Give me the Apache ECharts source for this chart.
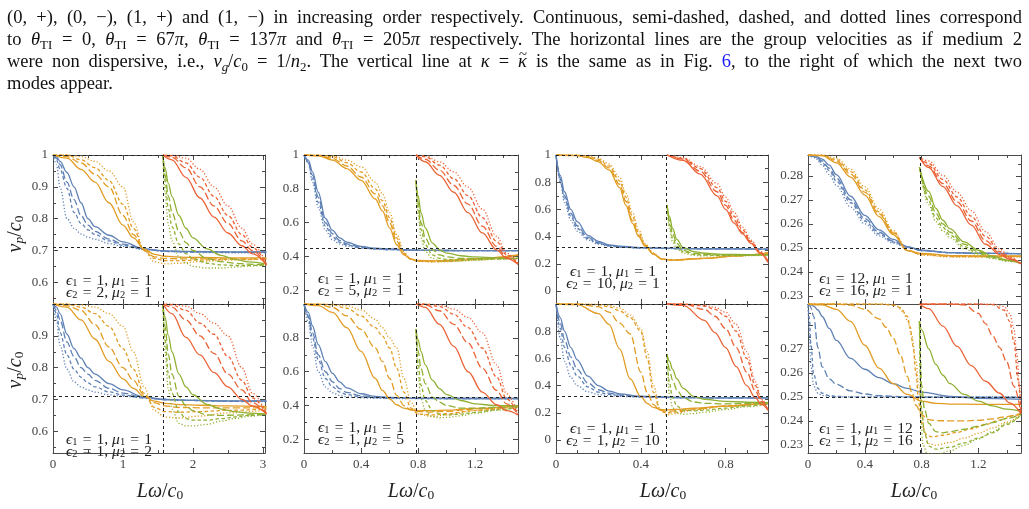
<!DOCTYPE html>
<html><head><meta charset="utf-8">
<script src="https://cdn.jsdelivr.net/npm/echarts@6/dist/echarts.min.js"></script>
<style>
html,body{margin:0;padding:0;background:#fff;width:1029px;height:509px;overflow:hidden;}
#chart{position:absolute;left:0;top:0;width:1029px;height:509px;}
#para{position:absolute;left:7px;top:6px;width:1015px;font-family:'Liberation Serif','Times New Roman',serif;font-size:18.5px;line-height:22px;color:#111;z-index:2;}
#para .ln{text-align:justify;text-align-last:justify;height:22px;white-space:nowrap;}
#para .last{text-align:left;text-align-last:left;}
#para sub{font-size:0.7em;line-height:0;vertical-align:-0.28em;}
#para i{font-style:italic;}
#para .tk{position:relative;display:inline-block;}
#para .tl{position:absolute;left:1px;top:-7px;font-style:normal;font-size:0.8em;}
</style></head>
<body>
<div id="chart"></div>
<div id="para">
<div class="ln">(0, +), (0, −), (1, +) and (1, −) in increasing order respectively. Continuous, semi-dashed, dashed, and dotted lines correspond</div>
<div class="ln">to <i>θ</i><sub>TI</sub> = 0, <i>θ</i><sub>TI</sub> = 67<i>π</i>, <i>θ</i><sub>TI</sub> = 137<i>π</i> and <i>θ</i><sub>TI</sub> = 205<i>π</i> respectively. The horizontal lines are the group velocities as if medium 2</div>
<div class="ln">were non dispersive, i.e., <i>v<sub>g</sub></i>/<i>c</i><sub>0</sub> = 1/<i>n</i><sub>2</sub>. The vertical line at <i>κ</i> = <span class="tk"><i>κ</i><span class="tl">~</span></span> is the same as in Fig. <span style="color:#1a1aff">6</span>, to the right of which the next two</div>
<div class="ln last">modes appear.</div>
</div>
<script>
// ---------- tick values ----------
const X_MAX = [3.03, 1.5, 1.0, 1.5];
const Y_RANGE = [[0.532, 1], [0.12, 1], [-0.095, 1], [0.2266, 0.2887]];
const X_MAJOR = [[0, 1, 2, 3], [0, 0.4, 0.8, 1.2], [0, 0.4, 0.8], [0, 0.4, 0.8, 1.2]];
const X_MINOR = [[0.5, 1.5, 2.5], [0.2, 0.6, 1.0, 1.4], [0.1, 0.2, 0.3, 0.5, 0.6, 0.7, 0.9], [0.2, 0.6, 1.0, 1.4]];
const Y_MAJOR = [[0.6, 0.7, 0.8, 0.9, 1], [0.2, 0.4, 0.6, 0.8, 1], [0, 0.2, 0.4, 0.6, 0.8, 1], [0.23, 0.24, 0.25, 0.26, 0.27, 0.28]];
const Y_MINOR = [[0.55, 0.65, 0.75, 0.85, 0.95], [0.3, 0.5, 0.7, 0.9], [0.1, 0.3, 0.5, 0.7, 0.9], [0.235, 0.245, 0.255, 0.265, 0.275, 0.285]];
const Y_LABELS_TOP = [[0.6, 0.7, 0.8, 0.9, 1], [0.2, 0.4, 0.6, 0.8, 1], [0, 0.2, 0.4, 0.6, 0.8, 1], [0.23, 0.24, 0.25, 0.26, 0.27, 0.28]];
const Y_LABELS_BOTTOM = [[0.6, 0.7, 0.8, 0.9], [0.2, 0.4, 0.6, 0.8], [0, 0.2, 0.4, 0.6, 0.8], [0.23, 0.24, 0.25, 0.26, 0.27]];
// reference lines: 1/n2 (horizontal), kappa-tilde (vertical), 1/n1 (top)
const H_REF = [0.7071, 0.7071, 0.4472, 0.4472, 0.3162, 0.3162, 0.25, 0.25];
const V_REF = [1.5708, 1.5708, 0.7854, 0.7854, 0.5236, 0.5236, 0.7854, 0.7854];
const T_REF = [1, 1, 1, 1, 1, 1, 0.2887, 0.2887];
// ---------- panel texts ----------
const ANNOT = [
  ['1', '1', '2', '1'], ['1', '1', '1', '2'],
  ['1', '1', '5', '1'], ['1', '1', '1', '5'],
  ['1', '1', '10', '1'], ['1', '1', '1', '10'],
  ['12', '1', '16', '1'], ['1', '12', '1', '16']
];

// ---------- curve data (order: solid, semi-dashed, dashed, dotted) ----------
// Panel A: eps2=2
const A_blue_x = [0,.05,.1,.2,.3,.4,.5,.6,.8,1.0,1.3,1.6,2,2.5,3.05];
const A_blue_y = [
 [1,.995,.98,.945,.9,.85,.80,.775,.748,.727,.705,.699,.697,.696,.696],
 [1,.99,.97,.915,.86,.81,.78,.76,.736,.72,.704,.698,.696,.695,.695],
 [1,.985,.955,.895,.82,.785,.765,.75,.73,.716,.704,.697,.695,.694,.694],
 [1,.97,.9,.8,.77,.752,.742,.735,.722,.713,.704,.697,.694,.693,.693]];
const A_orange_x = [0,.2,.4,.6,.8,1.0,1.15,1.3,1.45,1.6,1.8,2.1,2.5,3.05];
const A_orange_y = [
 [1,.99,.955,.915,.85,.78,.74,.705,.688,.682,.679,.678,.677,.677],
 [1,.995,.975,.94,.9,.81,.75,.702,.68,.675,.674,.674,.674,.674],
 [1,1,.985,.96,.92,.845,.77,.70,.675,.668,.668,.67,.672,.673],
 [1,1,.995,.98,.95,.9,.79,.70,.665,.658,.66,.665,.67,.672]];
const A_green_x = [1.571,1.6,1.65,1.7,1.8,1.9,2.0,2.2,2.4,2.6,2.8,3.05];
const A_green_y = [
 [1,.96,.91,.87,.81,.77,.74,.705,.685,.672,.664,.657],
 [1,.94,.87,.82,.76,.725,.70,.675,.665,.66,.657,.655],
 [1,.92,.83,.775,.72,.69,.675,.66,.655,.653,.653,.654],
 [1,.88,.78,.73,.68,.66,.65,.645,.645,.648,.651,.655]];
const A_red_x = [1.571,1.7,1.9,2.1,2.3,2.5,2.7,2.85,3.05];
const A_red_y = [
 [1,.985,.93,.865,.805,.755,.715,.69,.655],
 [1,.993,.96,.9,.84,.785,.73,.70,.655],
 [1,.997,.975,.93,.87,.81,.75,.71,.658],
 [1,.999,.99,.955,.9,.84,.77,.72,.66]];
// Panel B: mu2=2
const B_blue_x = [0,.05,.1,.2,.3,.4,.5,.6,.8,1.0,1.3,1.6,2,2.5,3.05];
const B_blue_y = [
 [1,.99,.97,.905,.86,.83,.80,.78,.75,.73,.708,.70,.697,.696,.696],
 [1,.98,.95,.88,.835,.80,.78,.76,.735,.72,.706,.70,.697,.695,.695],
 [1,.97,.91,.84,.795,.77,.752,.74,.724,.714,.705,.70,.697,.694,.694],
 [1,.95,.87,.795,.755,.74,.73,.723,.715,.71,.705,.70,.697,.694,.693]];
const B_orange_x = [0,.2,.4,.6,.8,1.0,1.15,1.3,1.45,1.6,1.8,2.1,2.5,3.05];
const B_orange_y = [
 [1,.99,.95,.89,.82,.765,.735,.71,.695,.688,.684,.682,.68,.678],
 [1,.995,.98,.935,.865,.80,.76,.715,.69,.68,.675,.674,.674,.674],
 [1,1,.99,.97,.93,.86,.795,.72,.675,.662,.66,.662,.666,.67],
 [1,1,.997,.99,.97,.93,.85,.74,.665,.645,.642,.648,.658,.667]];
const B_green_x = [1.571,1.6,1.65,1.7,1.8,1.9,2.0,2.2,2.4,2.6,2.8,3.05];
const B_green_y = [
 [1,.96,.9,.85,.78,.74,.715,.685,.67,.662,.657,.654],
 [1,.93,.84,.78,.71,.68,.665,.652,.65,.651,.652,.654],
 [1,.89,.78,.72,.66,.64,.635,.635,.64,.645,.65,.654],
 [1,.85,.73,.67,.625,.617,.617,.622,.632,.64,.647,.654]];
const B_red_x = [1.571,1.7,1.9,2.1,2.3,2.5,2.7,2.85,3.05];
const B_red_y = [
 [1,.97,.895,.84,.785,.74,.70,.68,.655],
 [1,.99,.95,.9,.845,.78,.73,.69,.655],
 [1,.997,.98,.94,.905,.835,.76,.705,.655],
 [1,1,.993,.97,.94,.9,.8,.72,.655]];
// Panel C: eps2=5
const C_blue_x = [0,.03,.06,.1,.15,.2,.25,.3,.4,.5,.6,.8,1.0,1.2,1.5];
const C_blue_y = [
 [1,.97,.9,.78,.625,.555,.51,.485,.46,.45,.445,.438,.436,.435,.435],
 [1,.96,.88,.75,.6,.535,.495,.475,.455,.447,.443,.437,.436,.435,.435],
 [1,.955,.86,.72,.58,.515,.485,.468,.452,.445,.441,.437,.436,.435,.435],
 [1,.95,.84,.69,.555,.5,.475,.462,.45,.444,.44,.437,.436,.435,.435]];
const C_orange_x = [0,.1,.2,.3,.4,.5,.55,.6,.65,.7,.75,.8,.9,1.0,1.2,1.5];
const C_orange_y = [
 [1,.995,.97,.92,.85,.74,.67,.57,.47,.41,.385,.377,.375,.378,.388,.41],
 [1,.997,.98,.935,.87,.77,.7,.6,.49,.415,.385,.375,.372,.375,.385,.41],
 [1,1,.99,.955,.9,.8,.73,.63,.51,.42,.384,.373,.37,.372,.383,.408],
 [1,1,.995,.97,.93,.84,.77,.66,.53,.43,.385,.372,.368,.37,.38,.407]];
const C_green_x = [.785,.8,.82,.85,.9,.95,1.0,1.1,1.2,1.35,1.5];
const C_green_y = [
 [.85,.76,.66,.57,.48,.44,.42,.405,.398,.393,.39],
 [.85,.72,.6,.51,.44,.41,.398,.39,.388,.388,.389],
 [.85,.69,.56,.47,.41,.39,.383,.381,.383,.386,.389],
 [.85,.65,.51,.43,.39,.375,.372,.374,.378,.384,.389]];
const C_red_x = [.785,.85,.95,1.05,1.15,1.25,1.35,1.42,1.5];
const C_red_y = [
 [1,.96,.88,.78,.66,.54,.44,.39,.355],
 [1,.975,.91,.82,.71,.58,.46,.395,.355],
 [1,.99,.94,.86,.76,.63,.49,.41,.358],
 [1,.995,.96,.9,.81,.68,.52,.42,.36]];
// Panel D: mu2=5
const D_blue_x = [0,.03,.06,.1,.15,.2,.25,.3,.4,.5,.6,.8,1.0,1.2,1.5];
const D_blue_y = [
 [1,.95,.87,.76,.66,.59,.54,.505,.47,.455,.448,.443,.442,.442,.442],
 [1,.93,.83,.7,.6,.54,.5,.478,.458,.45,.446,.443,.442,.442,.442],
 [1,.92,.8,.67,.56,.51,.48,.465,.452,.447,.444,.442,.442,.442,.442],
 [1,.89,.75,.6,.51,.475,.46,.452,.446,.443,.442,.442,.442,.442,.442]];
const D_orange_x = [0,.1,.2,.3,.4,.5,.55,.6,.65,.7,.75,.8,.9,1.0,1.2,1.5];
const D_orange_y = [
 [1,.99,.95,.86,.72,.56,.49,.44,.405,.385,.375,.37,.37,.373,.383,.4],
 [1,.998,.98,.93,.85,.74,.66,.56,.46,.4,.375,.365,.362,.366,.38,.4],
 [1,1,.995,.975,.93,.86,.81,.74,.62,.48,.385,.35,.345,.352,.372,.398],
 [1,1,.998,.99,.965,.91,.86,.8,.74,.56,.42,.35,.335,.345,.37,.398]];
const D_green_x = [.785,.8,.82,.85,.9,.95,1.0,1.1,1.2,1.35,1.5];
const D_green_y = [
 [.85,.79,.72,.64,.55,.5,.465,.43,.41,.4,.4],
 [.85,.72,.62,.53,.45,.42,.4,.385,.385,.39,.395],
 [.85,.65,.52,.43,.37,.35,.345,.35,.36,.375,.39],
 [.85,.58,.44,.37,.335,.328,.33,.34,.355,.372,.39]];
const D_red_x = [.785,.85,.95,1.05,1.15,1.25,1.35,1.42,1.5];
const D_red_y = [
 [1,.98,.88,.75,.6,.48,.405,.37,.345],
 [1,.995,.96,.88,.77,.62,.49,.41,.35],
 [1,1,.985,.94,.86,.74,.57,.44,.35],
 [1,1,.995,.97,.92,.83,.64,.47,.355]];
// Panel E: eps2=10
const E_blue_x = [0,.02,.04,.07,.1,.15,.2,.25,.3,.4,.5,.6,.8,1.0];
const E_blue_y = [
 [1,.85,.73,.6,.51,.41,.365,.34,.33,.32,.315,.312,.31,.308],
 [1,.83,.7,.57,.48,.395,.355,.335,.326,.318,.314,.312,.31,.308],
 [1,.82,.68,.55,.46,.385,.35,.332,.324,.317,.314,.312,.31,.308],
 [1,.8,.65,.52,.44,.375,.345,.33,.322,.316,.313,.311,.31,.308]];
const E_orange_x = [0,.1,.15,.2,.25,.3,.33,.36,.39,.42,.46,.5,.55,.7,.85,1.0];
const E_orange_y = [
 [1,.995,.98,.95,.89,.76,.63,.5,.4,.33,.27,.235,.228,.24,.258,.28],
 [1,.997,.985,.96,.905,.785,.66,.52,.41,.335,.272,.235,.228,.24,.258,.28],
 [1,.998,.99,.968,.92,.81,.69,.55,.43,.34,.275,.235,.227,.24,.258,.28],
 [1,1,.995,.975,.935,.835,.72,.58,.45,.35,.28,.235,.226,.24,.258,.28]];
const E_green_x = [.524,.535,.55,.57,.6,.65,.7,.8,.9,1.0];
const E_green_y = [
 [.63,.55,.46,.38,.32,.29,.278,.27,.268,.268],
 [.63,.52,.42,.35,.3,.278,.27,.265,.265,.266],
 [.63,.49,.39,.33,.29,.27,.264,.262,.263,.265],
 [.63,.46,.36,.31,.28,.262,.258,.258,.26,.264]];
const E_red_x = [.524,.6,.68,.76,.8,.84,.88,.92,.96,1.0];
const E_red_y = [
 [1,.96,.86,.7,.6,.5,.42,.35,.28,.21],
 [1,.97,.88,.73,.63,.52,.43,.355,.285,.215],
 [1,.975,.9,.76,.66,.55,.45,.365,.29,.22],
 [1,.98,.915,.79,.69,.58,.47,.375,.295,.225]];
// Panel F: mu2=10
const F_blue_x = [0,.02,.04,.07,.1,.15,.2,.25,.3,.4,.5,.6,.8,1.0];
const F_blue_y = [
 [1,.9,.8,.68,.59,.47,.4,.36,.34,.322,.316,.313,.31,.31],
 [1,.86,.74,.61,.52,.42,.37,.345,.332,.32,.315,.312,.31,.31],
 [1,.82,.68,.55,.47,.39,.352,.336,.327,.318,.314,.312,.31,.31],
 [1,.75,.58,.46,.4,.355,.335,.326,.321,.316,.313,.311,.31,.31]];
const F_orange_x = [0,.1,.2,.25,.3,.35,.4,.43,.46,.49,.52,.56,.65,.8,1.0];
const F_orange_y = [
 [1,.995,.93,.85,.67,.45,.32,.27,.24,.225,.222,.225,.235,.25,.275],
 [1,1,.98,.94,.86,.78,.5,.35,.26,.22,.21,.215,.23,.25,.275],
 [1,1,.995,.98,.95,.9,.8,.6,.35,.22,.2,.205,.225,.25,.275],
 [1,1,.998,.99,.97,.92,.82,.65,.4,.23,.185,.195,.22,.248,.275]];
const F_green_x = [.524,.535,.55,.57,.6,.65,.7,.8,.9,1.0];
const F_green_y = [
 [.63,.58,.52,.45,.38,.32,.3,.285,.278,.275],
 [.63,.52,.44,.37,.31,.28,.27,.266,.268,.272],
 [.63,.42,.31,.25,.22,.215,.22,.235,.25,.268],
 [.63,.33,.24,.2,.19,.195,.205,.225,.245,.265]];
const F_red_x = [.524,.6,.7,.75,.8,.85,.9,.94,.97,1.0];
const F_red_y = [
 [1,.99,.88,.79,.68,.54,.4,.31,.26,.22],
 [1,1,.96,.91,.82,.68,.5,.36,.28,.22],
 [1,1,.985,.96,.91,.8,.6,.4,.29,.22],
 [1,1,.993,.975,.94,.85,.65,.43,.3,.22]];
// Panel G: eps1=12, eps2=16
const G_blue_x = [0,.05,.1,.15,.2,.3,.4,.5,.6,.7,.8,1.0,1.2,1.5];
const G_blue_y = [
 [.2887,.2883,.287,.2845,.2805,.2715,.2635,.2575,.2535,.2505,.249,.248,.2477,.2476],
 [.2887,.288,.2862,.2832,.279,.27,.2622,.2565,.2528,.2503,.2489,.248,.2477,.2476],
 [.2887,.2878,.2855,.2822,.2778,.2688,.2612,.2558,.2524,.2502,.2489,.248,.2477,.2476],
 [.2887,.2875,.2845,.2805,.276,.267,.26,.255,.252,.2501,.2489,.248,.2477,.2476]];
const G_orange_x = [0,.1,.2,.3,.4,.5,.6,.7,.8,1.0,1.2,1.5];
const G_orange_y = [
 [.2887,.2884,.2855,.2795,.272,.263,.2555,.2488,.2477,.2468,.2466,.2466],
 [.2887,.2885,.2862,.2808,.2732,.2642,.2562,.2489,.2474,.2466,.2465,.2465],
 [.2887,.2886,.2868,.2818,.2742,.265,.2566,.2489,.2472,.2464,.2463,.2464],
 [.2887,.2887,.2874,.2828,.2755,.2662,.2572,.249,.247,.2462,.2461,.2463]];
const G_green_x = [.785,.85,.9,.95,1.0,1.1,1.2,1.3,1.4,1.5];
const G_green_y = [
 [.2835,.2735,.2665,.2615,.258,.2525,.249,.2465,.245,.2436],
 [.2835,.2715,.2645,.26,.2565,.2515,.2484,.2462,.2448,.2436],
 [.2835,.2695,.2625,.2585,.2553,.2505,.2476,.2458,.2446,.2436],
 [.2835,.268,.261,.257,.2543,.2496,.247,.2455,.2445,.2436]];
const G_red_x = [.785,.85,.95,1.05,1.15,1.25,1.35,1.42,1.5];
const G_red_y = [
 [.2877,.2835,.2755,.2675,.2595,.2515,.2472,.2452,.2434],
 [.2877,.2842,.2768,.2692,.2612,.253,.2478,.2455,.2434],
 [.2877,.2852,.2785,.2712,.2632,.2548,.2485,.2458,.2434],
 [.2877,.2862,.2802,.2732,.2655,.2568,.2495,.2462,.2434]];
// Panel H: mu1=12, mu2=16 (x sampled per line style)
const H_blue_x = [0,.01,.02,.04,.07,.1,.15,.2,.3,.4,.5,.6,.7,.8,1.0,1.2,1.5];
const H_blue_y = [
 [.2887,.2886,.2884,.2878,.2862,.2835,.2785,.2735,.266,.2615,.258,.2555,.2535,.252,.2502,.2494,.249],
 [.2887,.2883,.2872,.2835,.2705,.2625,.2575,.2552,.2525,.2512,.2505,.2502,.25,.2499,.2498,.2498,.2498],
 [.2887,.2825,.2722,.2595,.2535,.2515,.2505,.2502,.25,.2499,.2499,.2499,.2499,.2499,.2499,.2499,.2499],
 [.2887,.2755,.263,.2545,.2515,.2506,.2502,.25,.25,.25,.25,.25,.25,.25,.25,.25,.25]];
const H_orange_x = [
 [0,.1,.2,.3,.4,.5,.6,.7,.8,.9,1.0,1.2,1.5],
 [0,.2,.3,.4,.5,.55,.6,.65,.7,.73,.76,.8,.85,.9,1.0,1.1,1.2,1.3,1.4,1.5],
 [0,.5,.6,.65,.7,.72,.74,.76,.78,.8,.83,.87,.95,1.05,1.15,1.25,1.35,1.45,1.5],
 [0,.55,.62,.67,.7,.73,.76,.78,.8,.82,.85,.9,1.0,1.1,1.2,1.3,1.4,1.5]];
const H_orange_y = [
 [.2887,.2883,.2865,.2815,.2715,.262,.2555,.251,.2482,.2473,.247,.2469,.2469],
 [.2887,.2887,.2882,.2865,.2825,.279,.2745,.2675,.2585,.252,.2465,.2425,.2405,.2401,.24,.24,.2402,.2408,.2418,.2432],
 [.2887,.2887,.2882,.2872,.2835,.279,.271,.26,.2475,.239,.2345,.2333,.234,.2352,.2367,.2385,.2403,.2422,.243],
 [.2887,.2887,.2882,.2855,.282,.2755,.265,.254,.243,.2355,.2305,.2298,.231,.2328,.2348,.237,.2395,.2428]];
const H_green_x = [
 [.785,.8,.85,.9,.95,1.0,1.1,1.2,1.3,1.4,1.5],
 [.785,.79,.8,.82,.85,.9,.95,1.0,1.1,1.2,1.3,1.4,1.5],
 [.785,.79,.8,.82,.85,.9,1.0,1.1,1.2,1.3,1.4,1.5],
 [.785,.788,.795,.81,.84,.9,1.0,1.1,1.2,1.3,1.4,1.5]];
const H_green_y = [
 [.2815,.278,.27,.2635,.259,.2555,.251,.2482,.2462,.2449,.244],
 [.2815,.268,.255,.245,.239,.2355,.235,.2355,.2365,.2378,.2393,.241,.2428],
 [.2815,.26,.245,.235,.2295,.2282,.229,.2308,.2328,.235,.2385,.2425],
 [.2815,.26,.24,.23,.2262,.226,.2275,.2298,.2325,.2355,.239,.2425]];
const H_red_x = [
 [.785,.85,.95,1.05,1.15,1.25,1.35,1.42,1.5],
 [.785,1.0,1.1,1.2,1.25,1.3,1.35,1.4,1.45,1.5],
 [.785,1.2,1.3,1.38,1.42,1.45,1.48,1.5],
 [.785,1.3,1.38,1.42,1.45,1.47,1.49,1.5]];
const H_red_y = [
 [.2887,.2868,.2795,.271,.263,.2565,.2515,.2475,.243],
 [.2887,.2887,.2883,.2848,.2805,.2755,.2705,.2645,.2545,.243],
 [.2887,.2887,.2884,.2862,.2815,.273,.257,.243],
 [.2887,.2887,.2877,.2848,.2785,.268,.254,.243]];

const PANEL_DATA = [
 [[A_blue_x,A_blue_y],[A_orange_x,A_orange_y],[A_green_x,A_green_y],[A_red_x,A_red_y]],
 [[B_blue_x,B_blue_y],[B_orange_x,B_orange_y],[B_green_x,B_green_y],[B_red_x,B_red_y]],
 [[C_blue_x,C_blue_y],[C_orange_x,C_orange_y],[C_green_x,C_green_y],[C_red_x,C_red_y]],
 [[D_blue_x,D_blue_y],[D_orange_x,D_orange_y],[D_green_x,D_green_y],[D_red_x,D_red_y]],
 [[E_blue_x,E_blue_y],[E_orange_x,E_orange_y],[E_green_x,E_green_y],[E_red_x,E_red_y]],
 [[F_blue_x,F_blue_y],[F_orange_x,F_orange_y],[F_green_x,F_green_y],[F_red_x,F_red_y]],
 [[G_blue_x,G_blue_y],[G_orange_x,G_orange_y],[G_green_x,G_green_y],[G_red_x,G_red_y]],
 [[H_blue_x,H_blue_y],[H_orange_x,H_orange_y],[H_green_x,H_green_y],[H_red_x,H_red_y]]
];

// ---------- styling / layout ----------
const COLORS = ['#5E81B5', '#E19C24', '#8FB032', '#EB6235'];
const DASH = ['solid', [7, 3], [3.5, 2.5], [1.2, 2]];
const COL_LEFT = [53, 304, 556, 808];
const COL_WIDTH = [212, 214, 212, 213];
const ROW_TOP = [155, 304];
const ROW_H = 149;
const FRAME = '#4a4a4a';
const SERIF = "'Liberation Serif','Times New Roman',serif";
const ANNOT_POS = [[109,281,293],[109,440,452],[361,279,291],[361,428,440],[613,272,284],[613,429,441],[866,279,291],[866,429,441]];
const SP = '\u2004';

const grids = [], xAxes = [], yAxes = [], series = [], graphics = [];
PANEL_DATA.forEach((modes, p) => {
  const col = Math.floor(p / 2), row = p % 2;
  grids.push({left: COL_LEFT[col], top: ROW_TOP[row], width: COL_WIDTH[col], height: ROW_H, containLabel: false});
  const xr = [0, X_MAX[col]], yr = Y_RANGE[col];
  const lab = {fontFamily: SERIF, fontSize: 13, color: '#444'};
  const mk = (isX, pos, major, showLine, showLabel, labels) => ({
    type: 'value', gridIndex: p, position: pos, min: isX ? xr[0] : yr[0], max: isX ? xr[1] : yr[1],
    axisLine: {show: showLine, onZero: false, lineStyle: {color: FRAME, width: 1}},
    axisTick: {show: true, inside: true, length: major ? 5 : 3, customValues: major ? (isX ? X_MAJOR[col] : Y_MAJOR[col]) : (isX ? X_MINOR[col] : Y_MINOR[col]), lineStyle: {color: FRAME, width: 1}},
    axisLabel: showLabel ? Object.assign({show: true, customValues: labels, margin: 5, showMinLabel: true, showMaxLabel: true}, lab) : {show: false},
    splitLine: {show: false}
  });
  xAxes.push(mk(true, 'bottom', true, true, row === 1, X_MAJOR[col]));
  xAxes.push(mk(true, 'bottom', false, false, false));
  xAxes.push(mk(true, 'top', true, true, false));
  xAxes.push(mk(true, 'top', false, false, false));
  yAxes.push(mk(false, 'left', true, true, true, row === 0 ? Y_LABELS_TOP[col] : Y_LABELS_BOTTOM[col]));
  yAxes.push(mk(false, 'left', false, false, false));
  yAxes.push(mk(false, 'right', true, true, false));
  yAxes.push(mk(false, 'right', false, false, false));
  modes.forEach(([X, Y], m) => {
    Y.forEach((ys, s) => {
      const xs = Array.isArray(X[0]) ? X[s] : X;
      series.push({
        type: 'line', xAxisIndex: 4 * p, yAxisIndex: 4 * p,
        data: xs.map((x, i) => [x, ys[i]]),
        showSymbol: false, symbol: 'none', smooth: 0.35, smoothMonotone: 'x', clip: true,
        silent: true, animation: false, z: 2,
        lineStyle: {color: COLORS[m], width: 1.3, type: DASH[s]}
      });
    });
  });
  series.push({
    type: 'line', xAxisIndex: 4 * p, yAxisIndex: 4 * p, data: [[V_REF[p], H_REF[p]]],
    showSymbol: false, symbol: 'none', lineStyle: {width: 0}, silent: true, animation: false, z: 5,
    markLine: {silent: true, animation: false, symbol: ['none', 'none'], label: {show: false},
      lineStyle: {color: '#222', type: [3, 3], width: 1},
      data: [{yAxis: H_REF[p]}, {xAxis: V_REF[p]}, {yAxis: T_REF[p]}]}
  });
  // parameter annotation
  const a = ANNOT[p], ap = ANNOT_POS[p];
  const rich = {
    t: {fontFamily: SERIF, fontSize: 15.5, lineHeight: 16, fill: '#222'},
    i: {fontFamily: SERIF, fontSize: 15.5, fontStyle: 'italic', lineHeight: 16, fill: '#222'},
    s: {fontFamily: SERIF, fontSize: 10.5, lineHeight: 10, verticalAlign: 'bottom', fill: '#222'}
  };
  [[1, a[0], a[1]], [2, a[2], a[3]]].forEach(([k, e, mu], j) => {
    graphics.push({type: 'text', x: ap[0], y: ap[1 + j], z: 10, silent: true,
      style: {text: `{i|ϵ}{s|${k}}{t|${SP}=${SP}${e}, }{i|μ}{s|${k}}{t|${SP}=${SP}${mu}}`, rich, align: 'center', verticalAlign: 'middle', font: '15.5px ' + SERIF}});
  });
});

// axis titles
const titleRich = {
  i: {fontFamily: SERIF, fontSize: 20, fontStyle: 'italic', lineHeight: 20, fill: '#222'},
  t: {fontFamily: SERIF, fontSize: 20, lineHeight: 20, fill: '#222'},
  s: {fontFamily: SERIF, fontSize: 13.5, fontStyle: 'italic', lineHeight: 12, verticalAlign: 'bottom', fill: '#222'},
  s0: {fontFamily: SERIF, fontSize: 13.5, lineHeight: 12, verticalAlign: 'bottom', fill: '#222'}
};
[234, 370].forEach(cy => {
  graphics.push({type: 'text', x: 16, y: cy, rotation: Math.PI / 2, silent: true,
    style: {text: '{i|v}{s|p}{t|/}{i|c}{s0|0}', rich: titleRich, align: 'center', verticalAlign: 'middle'}});
});
[160, 411, 663, 914].forEach(cx => {
  graphics.push({type: 'text', x: cx, y: 492, silent: true,
    style: {text: '{i|Lω}{t|/}{i|c}{s0|0}', rich: titleRich, align: 'center', verticalAlign: 'middle'}});
});

const chart = echarts.init(document.getElementById('chart'), null, {renderer: 'canvas'});
chart.setOption({
  animation: false,
  backgroundColor: '#fff',
  grid: grids, xAxis: xAxes, yAxis: yAxes, series: series,
  graphic: graphics
});
</script>
</body></html>
